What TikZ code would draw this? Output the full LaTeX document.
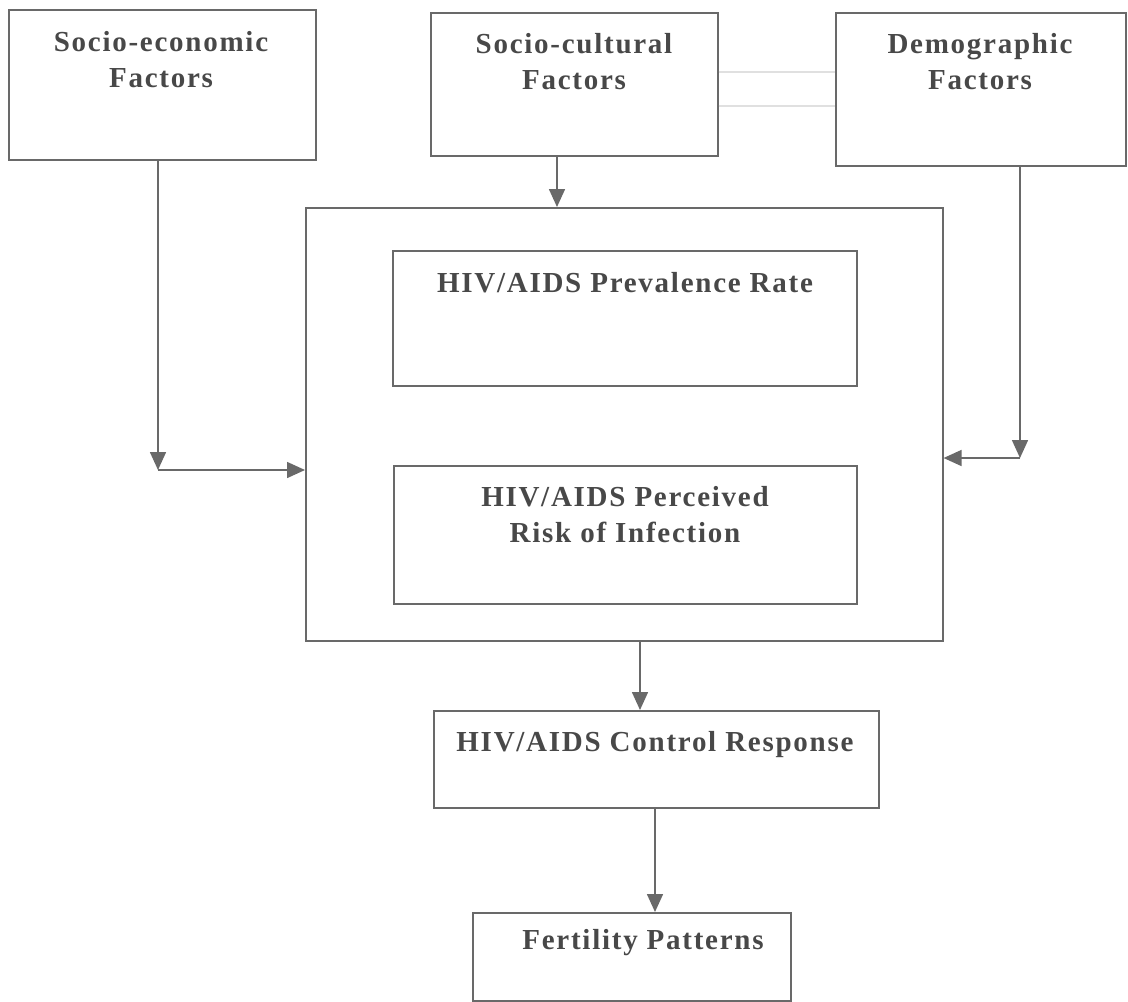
\documentclass[tikz,border=0pt]{standalone}
\usepackage{fontspec}
\setmainfont{Liberation Serif}
\usetikzlibrary{arrows.meta}
\definecolor{ln}{RGB}{105,105,105}
\definecolor{tx}{RGB}{72,72,72}
\begin{document}
\begin{tikzpicture}[x=1pt,y=-1pt,
  box/.style={draw=ln,line width=1.6pt,anchor=north west,inner sep=0pt},
  lbl/.style={text=tx,font=\fontsize{29}{36}\selectfont\bfseries\addfontfeature{LetterSpace=6},align=center,inner sep=0pt},
  conn/.style={draw=ln,line width=1.6pt},
  arr/.style={conn,-{Triangle[length=18pt,width=16pt]}}]
\useasboundingbox[fill=white] (0,0) rectangle (1128,1002);
% boxes
\node[box,minimum width=307pt,minimum height=150pt] (se) at (8,9) {};
\node[box,minimum width=287pt,minimum height=143pt] (sc) at (430,12) {};
\node[box,minimum width=290pt,minimum height=153pt] (dm) at (835,12) {};
\node[box,minimum width=637pt,minimum height=433pt] (big) at (305,207) {};
\node[box,minimum width=464pt,minimum height=135pt] (pr) at (392,250) {};
\node[box,minimum width=463pt,minimum height=138pt] (pe) at (393,465) {};
\node[box,minimum width=445pt,minimum height=97pt] (cr) at (433,710) {};
\node[box,minimum width=318pt,minimum height=88pt] (fp) at (472,912) {};
% labels
\node[lbl] (tse) at (161,60) {Socio-economic\\Factors};
\node[lbl] (tsc) at (574,62) {Socio-cultural\\Factors};
\node[lbl] (tdm) at (980,62) {Demographic\\Factors};
\node[lbl] (tpr) at (625,283) {HIV/AIDS Prevalence Rate};
\node[lbl] (tpe) at (625,515) {HIV/AIDS Perceived\\Risk of Infection};
\node[lbl] (tcr) at (655,745) {HIV/AIDS Control Response};
\node[lbl] (tfp) at (643,943) {Fertility Patterns};
% faint lines between socio-cultural and demographic
\draw[draw=black!12,line width=1.4pt] (sc.east |- 0,72) -- (dm.west |- 0,72);
\draw[draw=black!12,line width=1.4pt] (sc.east |- 0,106) -- (dm.west |- 0,106);
% connectors
\coordinate (c1) at (158,470);
\coordinate (c2) at (1020,458);
\draw[arr] (se.south -| c1) -- (c1);
\draw[arr] (c1) -- (big.west |- c1);
\draw[arr] (dm.south -| c2) -- (c2);
\draw[arr] (c2) -- (big.east |- c2);
\draw[arr] (sc.south -| 557,0) -- (big.north -| 557,0);
\draw[arr] (big.south -| 640,0) -- (cr.north -| 640,0);
\draw[arr] (cr.south -| 655,0) -- (fp.north -| 655,0);
\end{tikzpicture}
\end{document}
